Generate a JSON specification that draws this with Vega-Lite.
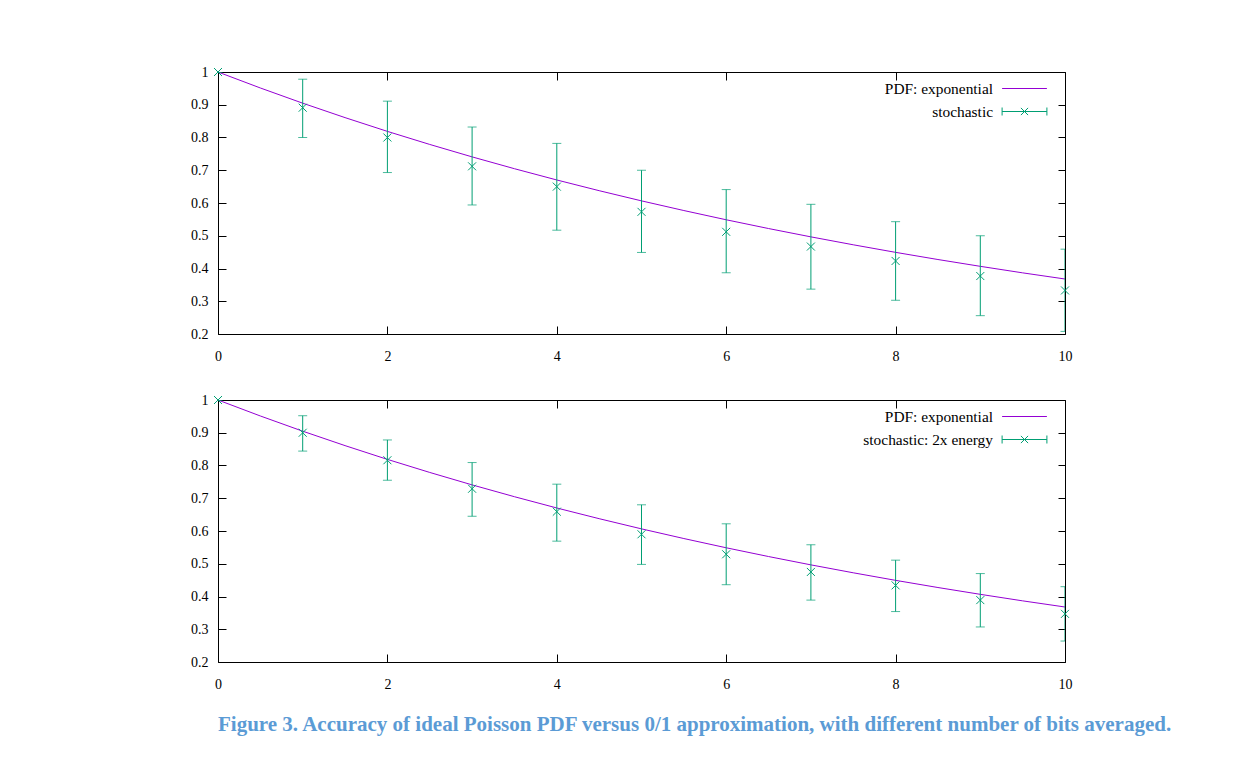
{
  "$schema": "https://vega.github.io/schema/vega-lite/v6.json",
  "background": "white",
  "autosize": {"type": "pad"},
  "padding": {"left": 190, "top": 64, "right": 10, "bottom": 10},
  "datasets": {
    "pdf": [
      {"x": 0, "y": 1, "series": "PDF: exponential"},
      {"x": 0.5, "y": 0.9512, "series": "PDF: exponential"},
      {"x": 1, "y": 0.9048, "series": "PDF: exponential"},
      {"x": 1.5, "y": 0.8607, "series": "PDF: exponential"},
      {"x": 2, "y": 0.8187, "series": "PDF: exponential"},
      {"x": 2.5, "y": 0.7788, "series": "PDF: exponential"},
      {"x": 3, "y": 0.7408, "series": "PDF: exponential"},
      {"x": 3.5, "y": 0.7047, "series": "PDF: exponential"},
      {"x": 4, "y": 0.6703, "series": "PDF: exponential"},
      {"x": 4.5, "y": 0.6376, "series": "PDF: exponential"},
      {"x": 5, "y": 0.6065, "series": "PDF: exponential"},
      {"x": 5.5, "y": 0.5770, "series": "PDF: exponential"},
      {"x": 6, "y": 0.5488, "series": "PDF: exponential"},
      {"x": 6.5, "y": 0.5220, "series": "PDF: exponential"},
      {"x": 7, "y": 0.4966, "series": "PDF: exponential"},
      {"x": 7.5, "y": 0.4724, "series": "PDF: exponential"},
      {"x": 8, "y": 0.4493, "series": "PDF: exponential"},
      {"x": 8.5, "y": 0.4274, "series": "PDF: exponential"},
      {"x": 9, "y": 0.4066, "series": "PDF: exponential"},
      {"x": 9.5, "y": 0.3867, "series": "PDF: exponential"},
      {"x": 10, "y": 0.3679, "series": "PDF: exponential"}
    ],
    "s1": [
      {"x": 0, "y": 1.0, "lo": 1.0, "hi": 1.0},
      {"x": 1, "y": 0.891, "lo": 0.800, "hi": 0.978},
      {"x": 2, "y": 0.800, "lo": 0.693, "hi": 0.911},
      {"x": 3, "y": 0.712, "lo": 0.594, "hi": 0.832},
      {"x": 4, "y": 0.650, "lo": 0.517, "hi": 0.782},
      {"x": 5, "y": 0.573, "lo": 0.449, "hi": 0.700},
      {"x": 6, "y": 0.512, "lo": 0.387, "hi": 0.641},
      {"x": 7, "y": 0.467, "lo": 0.337, "hi": 0.596},
      {"x": 8, "y": 0.423, "lo": 0.303, "hi": 0.543},
      {"x": 9, "y": 0.377, "lo": 0.256, "hi": 0.500},
      {"x": 10, "y": 0.333, "lo": 0.208, "hi": 0.459}
    ],
    "s2": [
      {"x": 0, "y": 1.0, "lo": 1.0, "hi": 1.0},
      {"x": 1, "y": 0.900, "lo": 0.844, "hi": 0.952},
      {"x": 2, "y": 0.816, "lo": 0.755, "hi": 0.878},
      {"x": 3, "y": 0.729, "lo": 0.645, "hi": 0.809},
      {"x": 4, "y": 0.659, "lo": 0.569, "hi": 0.743},
      {"x": 5, "y": 0.590, "lo": 0.498, "hi": 0.680},
      {"x": 6, "y": 0.529, "lo": 0.436, "hi": 0.622},
      {"x": 7, "y": 0.475, "lo": 0.389, "hi": 0.558},
      {"x": 8, "y": 0.434, "lo": 0.354, "hi": 0.511},
      {"x": 9, "y": 0.389, "lo": 0.307, "hi": 0.470},
      {"x": 10, "y": 0.347, "lo": 0.264, "hi": 0.430}
    ]
  },
  "config": {
    "font": "Liberation Serif",
    "view": {"stroke": "black", "strokeWidth": 1},
    "axis": {
      "grid": false,
      "domain": false,
      "tickColor": "black",
      "tickWidth": 1,
      "tickSize": -8,
      "labelPadding": 23,
      "labelFont": "Liberation Serif",
      "labelFontSize": 14,
      "labelColor": "black",
      "labelFlush": false,
      "labelOverlap": false
    },
    "concat": {"spacing": 28}
  },
  "title": {
    "text": "Figure 3. Accuracy of ideal Poisson PDF versus 0/1 approximation, with different number of bits averaged.",
    "orient": "bottom",
    "anchor": "start",
    "frame": "group",
    "font": "Liberation Serif",
    "fontWeight": "bold",
    "fontSize": 21,
    "color": "#5b9bd5",
    "offset": 22
  },
  "resolve": {"scale": {"color": "independent"}, "legend": {"color": "independent"}},
  "vconcat": [
    {
      "width": 847,
      "height": 262,
      "resolve": {"axis": {"x": "independent", "y": "independent"}},
      "layer": [
        {
          "data": {"name": "pdf"},
          "mark": {"type": "line", "strokeWidth": 1, "clip": true},
          "encoding": {
            "x": {"field": "x", "type": "quantitative", "scale": {"domain": [0, 10], "nice": false}, "axis": {"title": null, "values": [0, 2, 4, 6, 8, 10]}},
            "y": {"field": "y", "type": "quantitative", "scale": {"domain": [0.2, 1], "nice": false, "zero": false}, "axis": {"title": null, "values": [0.2, 0.3, 0.4, 0.5, 0.6, 0.7, 0.8, 0.9, 1], "format": "~g", "labelPadding": 18}},
            "color": {
              "field": "series", "type": "nominal",
              "scale": {"domain": ["PDF: exponential", "stochastic"], "range": ["#9400d3", "#009e73"]},
              "legend": {
                "orient": "none", "legendX": 798, "legendY": 8, "title": null,
                "symbolSize": 256, "labelAlign": "right", "labelOffset": -40,
                "labelFont": "Liberation Serif", "labelFontSize": 15.4, "labelColor": "black",
                "labelLimit": 400, "rowPadding": 6,
                "encode": {"symbols": {"update": {
                  "shape": {"signal": "datum.value === 'PDF: exponential' ? 'M-2.8,0H2.8' : 'M-2.8,0H2.8M-2.8,-0.5V0.5M2.8,-0.5V0.5M-0.45,-0.45L0.45,0.45M-0.45,0.45L0.45,-0.45'"},
                  "stroke": {"signal": "datum.value === 'PDF: exponential' ? '#9400d3' : '#009e73'"},
                  "fill": {"value": "transparent"},
                  "strokeWidth": {"value": 1},
                  "opacity": {"value": 1}
                }}}
              }
            }
          }
        },
        {
          "data": {"name": "s1"},
          "mark": {"type": "rule", "color": "#009e73", "strokeWidth": 1, "clip": true},
          "encoding": {
            "x": {"field": "x", "type": "quantitative", "scale": {"domain": [0, 10], "nice": false}, "axis": {"title": null, "orient": "top", "labels": false, "values": [0, 2, 4, 6, 8, 10]}},
            "y": {"field": "lo", "type": "quantitative", "scale": {"domain": [0.2, 1], "nice": false, "zero": false}, "axis": {"title": null, "orient": "right", "labels": false, "values": [0.2, 0.3, 0.4, 0.5, 0.6, 0.7, 0.8, 0.9, 1], "tickSize": -7}},
            "y2": {"field": "hi"}
          }
        },
        {
          "data": {"name": "s1"},
          "mark": {"type": "tick", "color": "#009e73", "orient": "horizontal", "size": 9, "thickness": 1, "clip": true},
          "encoding": {
            "x": {"field": "x", "type": "quantitative", "axis": null},
            "y": {"field": "lo", "type": "quantitative", "axis": null}
          }
        },
        {
          "data": {"name": "s1"},
          "mark": {"type": "tick", "color": "#009e73", "orient": "horizontal", "size": 9, "thickness": 1, "clip": true},
          "encoding": {
            "x": {"field": "x", "type": "quantitative", "axis": null},
            "y": {"field": "hi", "type": "quantitative", "axis": null}
          }
        },
        {
          "data": {"name": "s1"},
          "mark": {"type": "point", "shape": "M-1,-1L1,1M-1,1L1,-1", "size": 64, "filled": false, "color": "#009e73", "strokeWidth": 1, "opacity": 1},
          "encoding": {
            "x": {"field": "x", "type": "quantitative", "axis": null},
            "y": {"field": "y", "type": "quantitative", "axis": null}
          }
        }
      ]
    },
    {
      "width": 847,
      "height": 262,
      "resolve": {"axis": {"x": "independent", "y": "independent"}},
      "layer": [
        {
          "data": {"name": "pdf"},
          "mark": {"type": "line", "strokeWidth": 1, "clip": true},
          "encoding": {
            "x": {"field": "x", "type": "quantitative", "scale": {"domain": [0, 10], "nice": false}, "axis": {"title": null, "values": [0, 2, 4, 6, 8, 10]}},
            "y": {"field": "y", "type": "quantitative", "scale": {"domain": [0.2, 1], "nice": false, "zero": false}, "axis": {"title": null, "values": [0.2, 0.3, 0.4, 0.5, 0.6, 0.7, 0.8, 0.9, 1], "format": "~g", "labelPadding": 18}},
            "color": {
              "field": "series", "type": "nominal",
              "scale": {"domain": ["PDF: exponential", "stochastic: 2x energy"], "range": ["#9400d3", "#009e73"]},
              "legend": {
                "orient": "none", "legendX": 798, "legendY": 8, "title": null,
                "symbolSize": 256, "labelAlign": "right", "labelOffset": -40,
                "labelFont": "Liberation Serif", "labelFontSize": 15.4, "labelColor": "black",
                "labelLimit": 400, "rowPadding": 6,
                "encode": {"symbols": {"update": {
                  "shape": {"signal": "datum.value === 'PDF: exponential' ? 'M-2.8,0H2.8' : 'M-2.8,0H2.8M-2.8,-0.5V0.5M2.8,-0.5V0.5M-0.45,-0.45L0.45,0.45M-0.45,0.45L0.45,-0.45'"},
                  "stroke": {"signal": "datum.value === 'PDF: exponential' ? '#9400d3' : '#009e73'"},
                  "fill": {"value": "transparent"},
                  "strokeWidth": {"value": 1},
                  "opacity": {"value": 1}
                }}}
              }
            }
          }
        },
        {
          "data": {"name": "s2"},
          "mark": {"type": "rule", "color": "#009e73", "strokeWidth": 1, "clip": true},
          "encoding": {
            "x": {"field": "x", "type": "quantitative", "scale": {"domain": [0, 10], "nice": false}, "axis": {"title": null, "orient": "top", "labels": false, "values": [0, 2, 4, 6, 8, 10]}},
            "y": {"field": "lo", "type": "quantitative", "scale": {"domain": [0.2, 1], "nice": false, "zero": false}, "axis": {"title": null, "orient": "right", "labels": false, "values": [0.2, 0.3, 0.4, 0.5, 0.6, 0.7, 0.8, 0.9, 1], "tickSize": -7}},
            "y2": {"field": "hi"}
          }
        },
        {
          "data": {"name": "s2"},
          "mark": {"type": "tick", "color": "#009e73", "orient": "horizontal", "size": 9, "thickness": 1, "clip": true},
          "encoding": {
            "x": {"field": "x", "type": "quantitative", "axis": null},
            "y": {"field": "lo", "type": "quantitative", "axis": null}
          }
        },
        {
          "data": {"name": "s2"},
          "mark": {"type": "tick", "color": "#009e73", "orient": "horizontal", "size": 9, "thickness": 1, "clip": true},
          "encoding": {
            "x": {"field": "x", "type": "quantitative", "axis": null},
            "y": {"field": "hi", "type": "quantitative", "axis": null}
          }
        },
        {
          "data": {"name": "s2"},
          "mark": {"type": "point", "shape": "M-1,-1L1,1M-1,1L1,-1", "size": 64, "filled": false, "color": "#009e73", "strokeWidth": 1, "opacity": 1},
          "encoding": {
            "x": {"field": "x", "type": "quantitative", "axis": null},
            "y": {"field": "y", "type": "quantitative", "axis": null}
          }
        }
      ]
    }
  ]
}
